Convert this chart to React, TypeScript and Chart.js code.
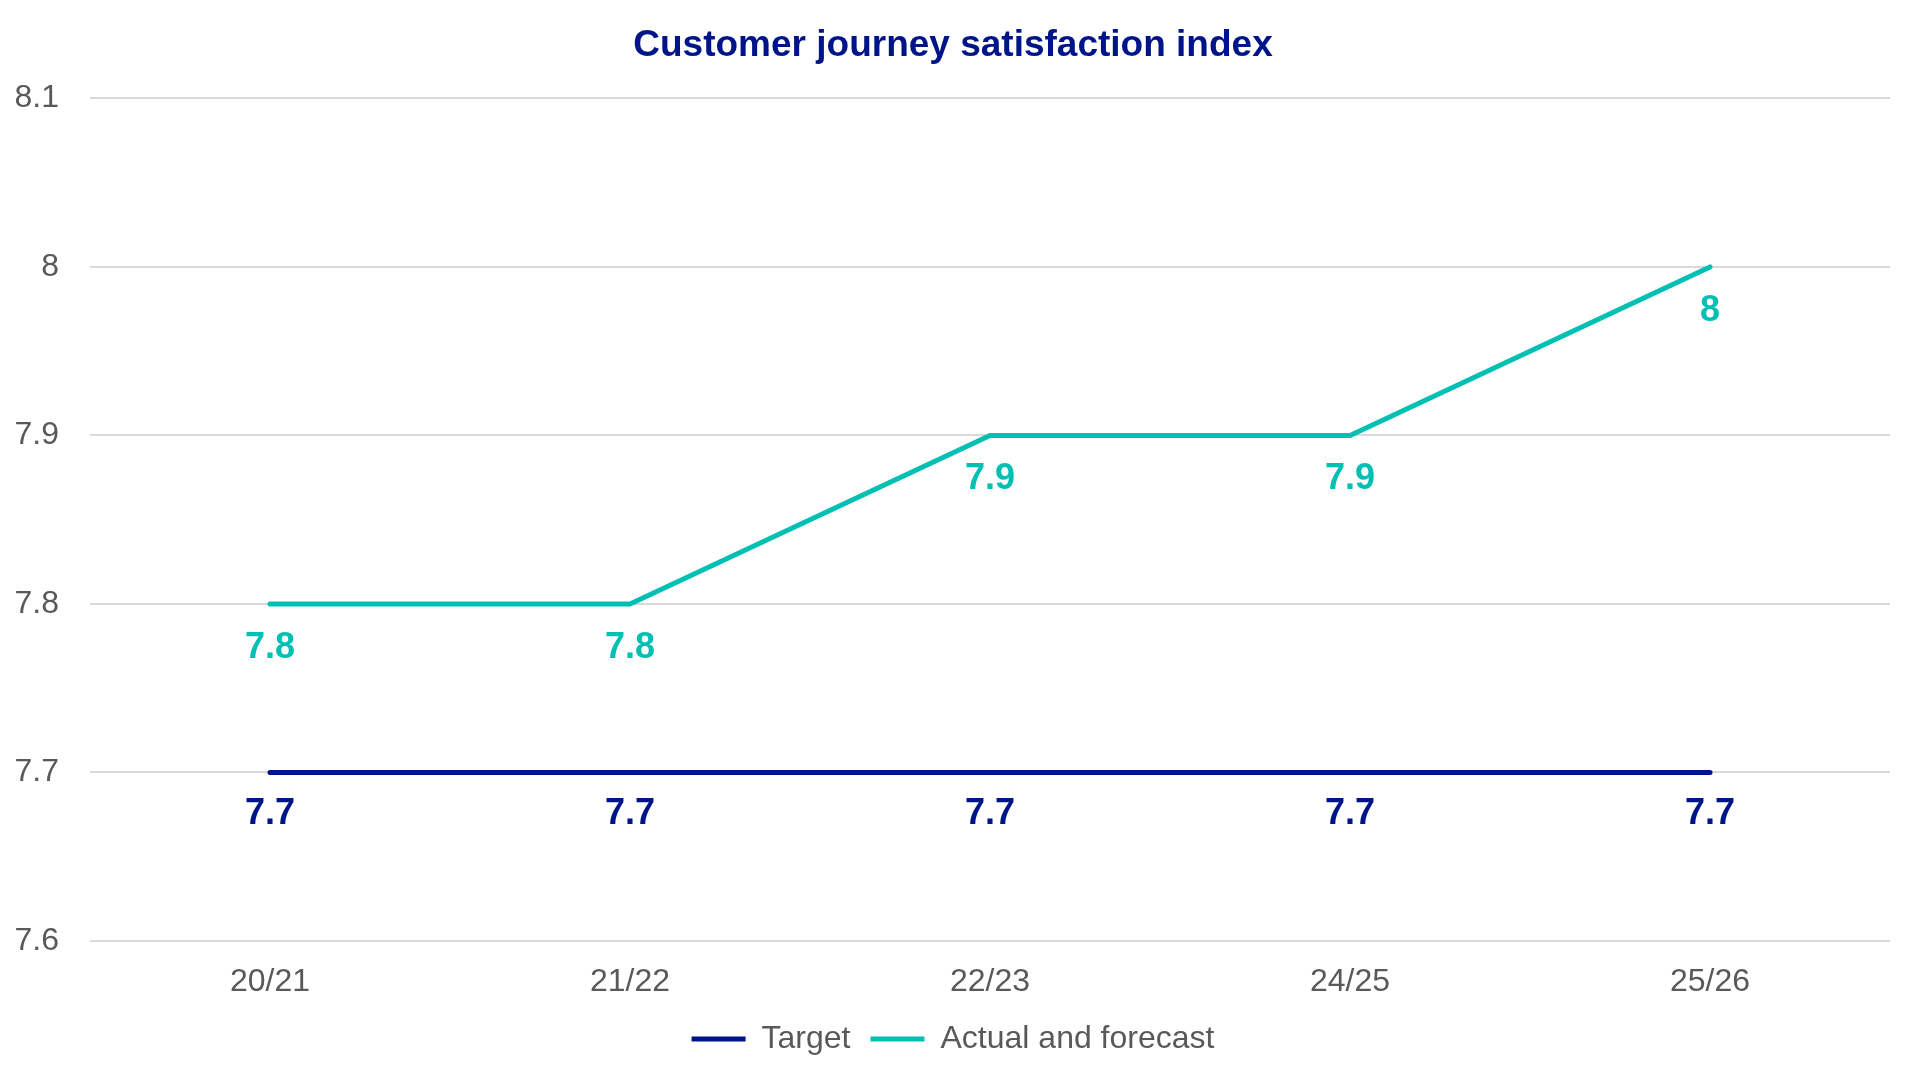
import React, { useEffect, useRef } from "react";
import { Chart, registerables } from "chart.js";

Chart.register(...registerables);

const categories = ["20/21", "21/22", "22/23", "24/25", "25/26"];
const targetValues = [7.7, 7.7, 7.7, 7.7, 7.7];
const actualValues = [7.8, 7.8, 7.9, 7.9, 8];
const seriesNames = ["Target", "Actual and forecast"];
const titleText = "Customer journey satisfaction index";
const yMin = 7.6;
const yMax = 8.1;
const yStep = 0.1;

const NAVY = "#001489";
const TEAL = "#00BFB3";
const GREY_TEXT = "#595959";
const FONT = '"Liberation Sans", Arial, sans-serif';
const labelOffsets = [42, 44];

const valueLabels = {
  id: "valueLabels",
  afterDatasetsDraw(chart: any) {
    const ctx = chart.ctx;
    chart.data.datasets.forEach((ds: any, i: number) => {
      const meta = chart.getDatasetMeta(i);
      ctx.save();
      ctx.font = `bold 36px ${FONT}`;
      ctx.fillStyle = ds.borderColor;
      ctx.textAlign = "center";
      ctx.textBaseline = "middle";
      meta.data.forEach((pt: any, j: number) => {
        ctx.fillText(String(ds.data[j]), pt.x, pt.y + labelOffsets[i]);
      });
      ctx.restore();
    });
  },
};

export default function App() {
  const ref = useRef<HTMLCanvasElement | null>(null);
  useEffect(() => {
    if (!ref.current) return;
    const chart = new Chart(ref.current, {
      type: "line",
      data: {
        labels: categories,
        datasets: [
          {
            label: seriesNames[0],
            data: targetValues,
            borderColor: NAVY,
            backgroundColor: NAVY,
            borderWidth: 5,
            borderCapStyle: "round",
            pointRadius: 0,
            tension: 0,
          },
          {
            label: seriesNames[1],
            data: actualValues,
            borderColor: TEAL,
            backgroundColor: TEAL,
            borderWidth: 5,
            borderCapStyle: "round",
            pointRadius: 0,
            tension: 0,
          },
        ],
      },
      options: {
        animation: false,
        responsive: true,
        maintainAspectRatio: false,
        layout: { padding: { top: 24, left: 16, right: 30, bottom: 15 } },
        plugins: {
          title: {
            display: true,
            text: titleText,
            color: NAVY,
            font: { family: FONT, size: 37, weight: "bold" },
            padding: { top: 0, bottom: 30 },
          },
          legend: {
            position: "bottom",
            labels: {
              color: GREY_TEXT,
              font: { family: FONT, size: 32 },
              usePointStyle: true,
              pointStyle: "line",
              pointStyleWidth: 54,
              boxHeight: 5,
              padding: 20,
            },
          },
          tooltip: { enabled: false },
        },
        scales: {
          x: {
            offset: true,
            grid: { display: false, drawTicks: false },
            border: { display: false },
            ticks: { color: GREY_TEXT, font: { family: FONT, size: 32 }, padding: 22 },
            afterFit: (s: any) => {
              s.height = 62;
            },
          },
          y: {
            min: yMin,
            max: yMax,
            grid: { color: "#D9D9D9", lineWidth: 2, drawTicks: false },
            border: { display: false },
            ticks: {
              stepSize: yStep,
              color: GREY_TEXT,
              font: { family: FONT, size: 32 },
              padding: 31,
              callback: (v: any) => String(Number(Number(v).toFixed(1))),
            },
            afterFit: (s: any) => {
              s.width = 74;
            },
          },
        },
      },
      plugins: [valueLabels],
    });
    return () => chart.destroy();
  }, []);
  return (
    <div style={{ position: "fixed", left: 0, top: 0, width: 1920, height: 1080, background: "#fff" }}>
      <canvas ref={ref} />
    </div>
  );
}
